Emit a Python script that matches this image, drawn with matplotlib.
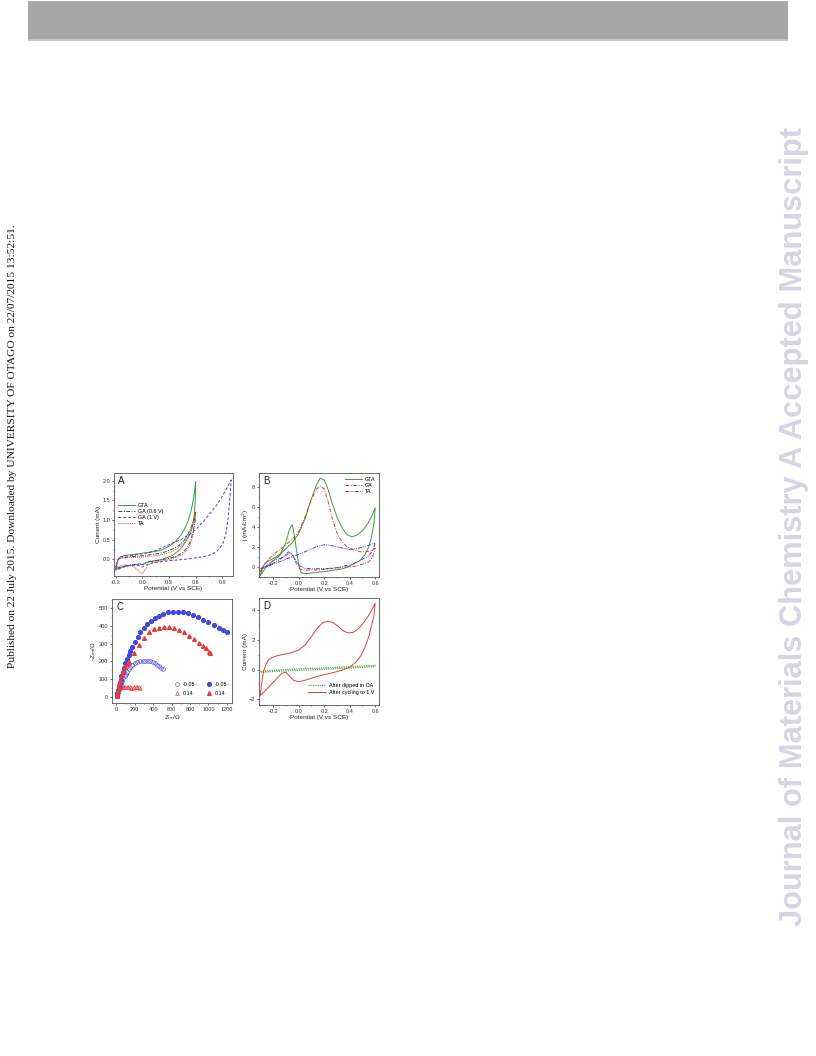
import matplotlib

matplotlib.use("Agg")
import matplotlib.pyplot as plt
from matplotlib.patches import Rectangle
from matplotlib.ticker import AutoMinorLocator

plt.rcParams["font.family"] = ["Liberation Sans", "DejaVu Sans"]

# ---- panel A: CVs, current (mA) vs potential (V vs SCE)
a_gta_x = [-0.30, -0.28, -0.25, -0.20, -0.10, 0.00, 0.10, 0.20, 0.26, 0.32, 0.38, 0.43, 0.47,
           0.51, 0.55, 0.58, 0.60, 0.595, 0.585, 0.57, 0.55, 0.53, 0.49, 0.45, 0.40, 0.34,
           0.28, 0.20, 0.12, 0.05, 0.02, 0.00, -0.03, -0.08, -0.15, -0.22, -0.28, -0.30]
a_gta_y = [-0.25, -0.05, 0.06, 0.09, 0.12, 0.15, 0.18, 0.22, 0.28, 0.36, 0.47, 0.60, 0.75,
           0.95, 1.25, 1.60, 1.98, 1.50, 1.15, 0.90, 0.72, 0.62, 0.45, 0.32, 0.20, 0.10,
           0.04, -0.02, -0.05, -0.08, -0.12, -0.14, -0.12, -0.14, -0.17, -0.20, -0.24, -0.26]
a_ga06_x = [-0.30, -0.28, -0.25, -0.15, -0.05, 0.05, 0.15, 0.25, 0.33, 0.40, 0.46, 0.51, 0.55,
            0.58, 0.60, 0.59, 0.57, 0.54, 0.50, 0.45, 0.38, 0.30, 0.20, 0.10, 0.03, 0.00,
            -0.05, -0.12, -0.20, -0.27, -0.30]
a_ga06_y = [-0.22, -0.02, 0.03, 0.06, 0.08, 0.10, 0.13, 0.18, 0.25, 0.33, 0.45, 0.62, 0.82,
            1.00, 1.20, 0.95, 0.70, 0.45, 0.28, 0.16, 0.07, 0.02, -0.02, -0.05, -0.10, -0.14,
            -0.13, -0.14, -0.17, -0.22, -0.24]
a_ga1_x = [-0.30, -0.28, -0.25, -0.15, -0.05, 0.05, 0.15, 0.25, 0.35, 0.45, 0.55, 0.62, 0.70,
           0.78, 0.85, 0.91, 0.96, 1.00, 0.99, 0.975, 0.96, 0.94, 0.91, 0.87, 0.82, 0.74,
           0.62, 0.50, 0.40, 0.30, 0.20, 0.10, 0.03, 0.00, -0.05, -0.12, -0.20, -0.27, -0.30]
a_ga1_y = [-0.28, -0.02, 0.06, 0.09, 0.12, 0.16, 0.22, 0.32, 0.42, 0.52, 0.66, 0.80, 1.00,
           1.22, 1.42, 1.65, 1.85, 2.02, 1.70, 1.30, 0.95, 0.65, 0.42, 0.27, 0.17, 0.09,
           0.04, 0.00, -0.02, -0.04, -0.07, -0.10, -0.16, -0.20, -0.16, -0.15, -0.19, -0.26,
           -0.30]
a_ta_x = [-0.30, -0.28, -0.25, -0.15, -0.05, 0.05, 0.15, 0.25, 0.33, 0.40, 0.46, 0.51, 0.55,
          0.58, 0.60, 0.59, 0.57, 0.54, 0.50, 0.45, 0.38, 0.30, 0.20, 0.12, 0.07, 0.03,
          0.00, -0.03, -0.07, -0.12, -0.20, -0.27, -0.30]
a_ta_y = [-0.20, -0.02, 0.02, 0.04, 0.05, 0.07, 0.09, 0.13, 0.19, 0.28, 0.40, 0.58, 0.80,
          1.00, 1.17, 0.90, 0.62, 0.38, 0.22, 0.12, 0.04, -0.01, -0.05, -0.09, -0.15, -0.27,
          -0.36, -0.33, -0.24, -0.17, -0.15, -0.18, -0.20]

# ---- panel B: j (mA/cm2) vs potential
b_gta_x = [-0.30, -0.28, -0.25, -0.20, -0.15, -0.10, -0.05, 0.00, 0.05, 0.10, 0.14, 0.17,
           0.20, 0.23, 0.26, 0.30, 0.34, 0.38, 0.42, 0.46, 0.50, 0.54, 0.57, 0.60,
           0.59, 0.57, 0.55, 0.52, 0.48, 0.42, 0.35, 0.25, 0.15, 0.06, 0.02, 0.00, -0.02,
           -0.04, -0.05, -0.07, -0.10, -0.15, -0.20, -0.25, -0.30]
b_gta_y = [-0.85, 0.0, 0.5, 0.8, 1.2, 1.8, 2.4, 3.3, 4.8, 6.8, 8.2, 8.9,
           8.7, 7.8, 6.5, 5.0, 3.9, 3.2, 3.0, 3.2, 3.6, 4.3, 5.0, 5.9,
           4.3, 2.9, 2.0, 1.2, 0.6, 0.2, -0.2, -0.4, -0.55, -0.7, -0.6, 0.3, 2.0,
           3.7, 4.2, 3.8, 2.4, 1.1, 0.6, 0.0, -0.85]
b_ga_x = [-0.30, -0.27, -0.23, -0.19, -0.14, -0.09, -0.04, 0.00, 0.05, 0.10, 0.14, 0.17,
          0.20, 0.23, 0.26, 0.30, 0.34, 0.38, 0.43, 0.48, 0.53, 0.57, 0.60,
          0.58, 0.55, 0.50, 0.44, 0.36, 0.25, 0.15, 0.05, 0.01, -0.02, -0.05, -0.07,
          -0.10, -0.15, -0.20, -0.25, -0.30]
b_ga_y = [-0.5, 0.2, 0.8, 1.3, 1.8, 2.3, 2.9, 3.5, 5.0, 6.7, 7.8, 8.1,
          7.8, 6.6, 5.0, 3.4, 2.5, 2.0, 1.7, 1.5, 1.5, 1.6, 1.85,
          1.0, 0.5, 0.25, 0.05, -0.05, -0.2, -0.33, -0.35, -0.25, 0.4, 1.2, 1.4,
          1.1, 0.8, 0.6, 0.1, -0.5]
b_ta_x = [-0.30, -0.25, -0.20, -0.15, -0.10, -0.05, 0.00, 0.05, 0.10, 0.15, 0.20, 0.25,
          0.30, 0.35, 0.40, 0.45, 0.50, 0.55, 0.60,
          0.58, 0.55, 0.50, 0.45, 0.40, 0.30, 0.20, 0.10, 0.04, 0.00, -0.03, -0.06,
          -0.08, -0.11, -0.15, -0.20, -0.25, -0.30]
b_ta_y = [-0.2, 0.0, 0.25, 0.5, 0.75, 1.0, 1.25, 1.5, 1.8, 2.05, 2.2, 2.15,
          2.0, 1.85, 1.75, 1.8, 1.95, 2.15, 2.4,
          1.6, 1.1, 0.75, 0.45, 0.2, -0.1, -0.2, -0.2, -0.15, 0.2, 0.8, 1.35,
          1.5, 1.1, 0.7, 0.35, 0.05, -0.2]

# ---- panel C: Nyquist plots (ohm)
c_open_m005_x = [3, 8, 14, 21, 29, 38, 49, 61, 75, 90, 104, 116, 133, 152, 175, 200, 228,
                 256, 284, 312, 340, 368, 396, 422, 446, 468, 488, 505]
c_open_m005_y = [4, 14, 25, 37, 50, 62, 76, 90, 104, 118, 131, 142, 157, 170, 181, 190, 197,
                 201, 203, 204, 203, 201, 196, 189, 180, 171, 162, 155]
c_open_014_x = [3, 8, 14, 20, 27, 35, 44, 55, 68, 82, 98, 114, 130, 146, 162, 178, 194, 210,
                226, 242, 258]
c_open_014_y = [4, 12, 22, 32, 41, 48, 53, 56, 57, 56, 54, 53, 52, 52, 51, 51, 52, 52,
                53, 52, 51]
c_fill_m005_x = [4, 12, 20, 28, 37, 46, 56, 67, 80, 95, 113, 133, 152, 172, 200, 230, 262,
                 296, 333, 372, 415, 460, 510, 560, 615, 670, 725, 780, 835, 890, 945, 1000,
                 1055, 1110, 1155, 1200]
c_fill_m005_y = [5, 20, 37, 55, 75, 96, 118, 141, 165, 190, 212, 235, 258, 282, 310, 338, 364,
                 388, 410, 428, 445, 459, 470, 478, 482, 482, 478, 472, 462, 449, 434, 420,
                 405, 390, 378, 366]
c_fill_014_x = [4, 10, 17, 25, 34, 45, 58, 74, 92, 112, 134, 188, 242, 296, 350, 405, 459,
                513, 567, 622, 676, 730, 784, 839, 893, 936, 972, 1001, 1012]
c_fill_014_y = [5, 20, 37, 55, 75, 97, 120, 145, 170, 185, 198, 245, 292, 334, 364, 381, 391,
                396, 396, 391, 377, 364, 345, 326, 306, 289, 274, 255, 245]

# ---- panel D: CVs, current (mA) vs potential
d_oa_x = [-0.30, -0.20, -0.10, 0.00, 0.10, 0.20, 0.30, 0.40, 0.50, 0.60,
          0.60, 0.50, 0.40, 0.30, 0.20, 0.10, 0.00, -0.10, -0.20, -0.30]
d_oa_y = [-0.12, -0.06, 0.00, 0.04, 0.08, 0.11, 0.15, 0.19, 0.23, 0.28,
          0.20, 0.15, 0.10, 0.06, 0.02, -0.02, -0.05, -0.09, -0.13, -0.20]
d_cyc_x = [-0.30, -0.29, -0.275, -0.255, -0.235, -0.21, -0.17, -0.12, -0.06, 0.00, 0.05,
           0.10, 0.15, 0.19, 0.23, 0.27, 0.31, 0.35, 0.39, 0.43, 0.47, 0.51, 0.55, 0.58,
           0.60, 0.59, 0.57, 0.55, 0.52, 0.49, 0.45, 0.40, 0.34, 0.25, 0.15, 0.05, 0.00,
           -0.04, -0.07, -0.10, -0.13, -0.17, -0.22, -0.26, -0.30]
d_cyc_y = [-1.75, -1.0, -0.13, 0.35, 0.65, 0.80, 0.92, 1.02, 1.12, 1.30, 1.65,
           2.20, 2.80, 3.15, 3.25, 3.15, 2.90, 2.60, 2.45, 2.50, 2.75, 3.15, 3.65, 4.10,
           4.45, 3.60, 2.90, 2.20, 1.50, 0.95, 0.50, 0.15, -0.05, -0.25, -0.45, -0.72, -0.82,
           -0.72, -0.45, -0.17, -0.25, -0.60, -1.05, -1.40, -1.75]

GREEN = "#3c9c3c"
RED = "#e23c3c"
BLUE = "#4646dc"
GREY = "#4a4a4a"

W, H = 816, 1056
fig = plt.figure(figsize=(W / 100, H / 100), dpi=100)


def add_axes(left, top, right, bottom):
    return fig.add_axes([left / W, 1 - bottom / H, (right - left) / W, (bottom - top) / H])


def style(ax, letter):
    for sp in ax.spines.values():
        sp.set_color("#555555")
        sp.set_linewidth(0.6)
    ax.tick_params(labelsize=4.0, length=1.6, width=0.5, pad=1.2, colors="#333333")
    ax.tick_params(which="minor", length=0.9, width=0.4, colors="#333333")
    ax.xaxis.set_minor_locator(AutoMinorLocator(2))
    ax.yaxis.set_minor_locator(AutoMinorLocator(2))
    ax.text(0.035, 0.975, letter, transform=ax.transAxes, ha="left", va="top",
            fontsize=7, color="#222222")


def labels(ax, xl, yl):
    ax.set_xlabel(xl, fontsize=4.6, labelpad=0.8, color="#222222")
    ax.set_ylabel(yl, fontsize=4.6, labelpad=0.8, color="#222222")


lw = 0.7
leg_fs = 3.9

# A
ax = add_axes(114, 473, 233, 576)
ax.plot(a_gta_x, a_gta_y, color=GREEN, lw=lw, label="GTA")
ax.plot(a_ga06_x, a_ga06_y, color=GREY, lw=lw, ls=(0, (4, 1.5, 1, 1.5)), label="GA (0.6 V)")
ax.plot(a_ga1_x, a_ga1_y, color=BLUE, lw=lw, ls=(0, (3, 2)), label="GA (1 V)")
ax.plot(a_ta_x, a_ta_y, color=RED, lw=lw, ls=(0, (1, 1)), label="TA")
ax.set_xlim(-0.32, 1.02)
ax.set_ylim(-0.43, 2.2)
ax.set_xticks([-0.3, 0.0, 0.3, 0.6, 0.9])
ax.set_yticks([0.0, 0.5, 1.0, 1.5, 2.0])
ax.set_xticklabels(["-0.3", "0.0", "0.3", "0.6", "0.9"])
ax.set_yticklabels(["0.0", "0.5", "1.0", "1.5", "2.0"])
style(ax, "A")
labels(ax, "Potential (V vs SCE)", "Current (mA)")
ax.legend(loc="upper left", bbox_to_anchor=(0.0, 0.75), frameon=False, fontsize=leg_fs,
          handlelength=3.2, labelspacing=0.2, handletextpad=0.5, borderaxespad=0.3)

# B
ax = add_axes(259, 473, 379, 577)
ax.plot(b_gta_x, b_gta_y, color=GREEN, lw=lw, label="GTA")
ax.plot(b_ga_x, b_ga_y, color=RED, lw=lw, ls=(0, (4, 1.5, 1, 1.5)), label="GA")
ax.plot(b_ta_x, b_ta_y, color=BLUE, lw=lw, ls=(0, (4, 1.2, 1, 1.2, 1, 1.2)), label="TA")
ax.set_xlim(-0.31, 0.63)
ax.set_ylim(-1.03, 9.4)
ax.set_xticks([-0.2, 0.0, 0.2, 0.4, 0.6])
ax.set_xticklabels(["-0.2", "0.0", "0.2", "0.4", "0.6"])
ax.set_yticks([0, 2, 4, 6, 8])
style(ax, "B")
labels(ax, "Potential (V vs SCE)", "j (mA/cm$^2$)")
ax.legend(loc="upper right", frameon=False, fontsize=leg_fs, handlelength=3.2,
          labelspacing=0.2, handletextpad=0.5, borderaxespad=0.3)

# C
ax = add_axes(112, 599, 232, 703)
ms = 2.7
ax.plot(c_open_m005_x, c_open_m005_y, ls="none", marker="o", ms=ms, mfc="none",
        mec=BLUE, mew=0.45, label="-0.05")
ax.plot(c_open_014_x, c_open_014_y, ls="none", marker="^", ms=ms, mfc="none",
        mec=RED, mew=0.45, label="0.14")
ax.plot(c_fill_m005_x, c_fill_m005_y, ls="none", marker="o", ms=ms, color=BLUE,
        mec=BLUE, label="-0.05")
ax.plot(c_fill_014_x, c_fill_014_y, ls="none", marker="^", ms=ms, color=RED,
        mec=RED, label="0.14")
ax.set_xlim(-47, 1255)
ax.set_ylim(-36, 553)
ax.set_xticks(range(0, 1201, 200))
ax.set_yticks(range(0, 501, 100))
style(ax, "C")
labels(ax, "Z$_{re}$/Ω", "-Z$_{im}$/Ω")
ax.legend(loc="lower right", bbox_to_anchor=(1.0, 0.03), ncol=2, frameon=False,
          fontsize=leg_fs, handlelength=1.0, labelspacing=0.6, handletextpad=0.6,
          columnspacing=2.0, borderaxespad=0.4)

# D
ax = add_axes(259, 598, 379, 705)
ax.plot(d_oa_x, d_oa_y, color="#55b055", lw=0.9, ls=(0, (1, 0.8)), label="After dipped in OA")
ax.plot(d_cyc_x, d_cyc_y, color=RED, lw=lw, label="After cycling to 1 V")
ax.set_xlim(-0.31, 0.63)
ax.set_ylim(-2.38, 4.8)
ax.set_xticks([-0.2, 0.0, 0.2, 0.4, 0.6])
ax.set_xticklabels(["-0.2", "0.0", "0.2", "0.4", "0.6"])
ax.set_yticks([-2, 0, 2, 4])
style(ax, "D")
labels(ax, "Potential (V vs SCE)", "Current (mA)")
ax.legend(loc="lower right", bbox_to_anchor=(1.0, 0.05), frameon=False, fontsize=leg_fs,
          handlelength=3.2, labelspacing=0.4, handletextpad=0.6, borderaxespad=0.5)

# page decoration: header bar and margin notes
fig.patches.append(Rectangle((28 / W, 1 - 40 / H), 760 / W, 39 / H, transform=fig.transFigure,
                             facecolor="#a6a6a6", edgecolor="none"))
fig.patches.append(Rectangle((28 / W, 1 - 40.5 / H), 760 / W, 1.2 / H, transform=fig.transFigure,
                             facecolor="#c4c4c4", edgecolor="none"))
fig.text(13 / W, 1 - 446 / H,
         "Published on 22 July 2015. Downloaded by UNIVERSITY OF OTAGO on 22/07/2015 13:52:51.",
         rotation=90, ha="center", va="center", fontsize=8.2,
         family=["Liberation Serif", "DejaVu Serif"], color="#111111")
fig.text(794 / W, 1 - 527 / H, "Journal of Materials Chemistry A Accepted Manuscript",
         rotation=90, ha="center", va="center", fontsize=22.2, fontweight="bold",
         color="#d5d6e3")

fig.savefig("out.png", dpi=100)
